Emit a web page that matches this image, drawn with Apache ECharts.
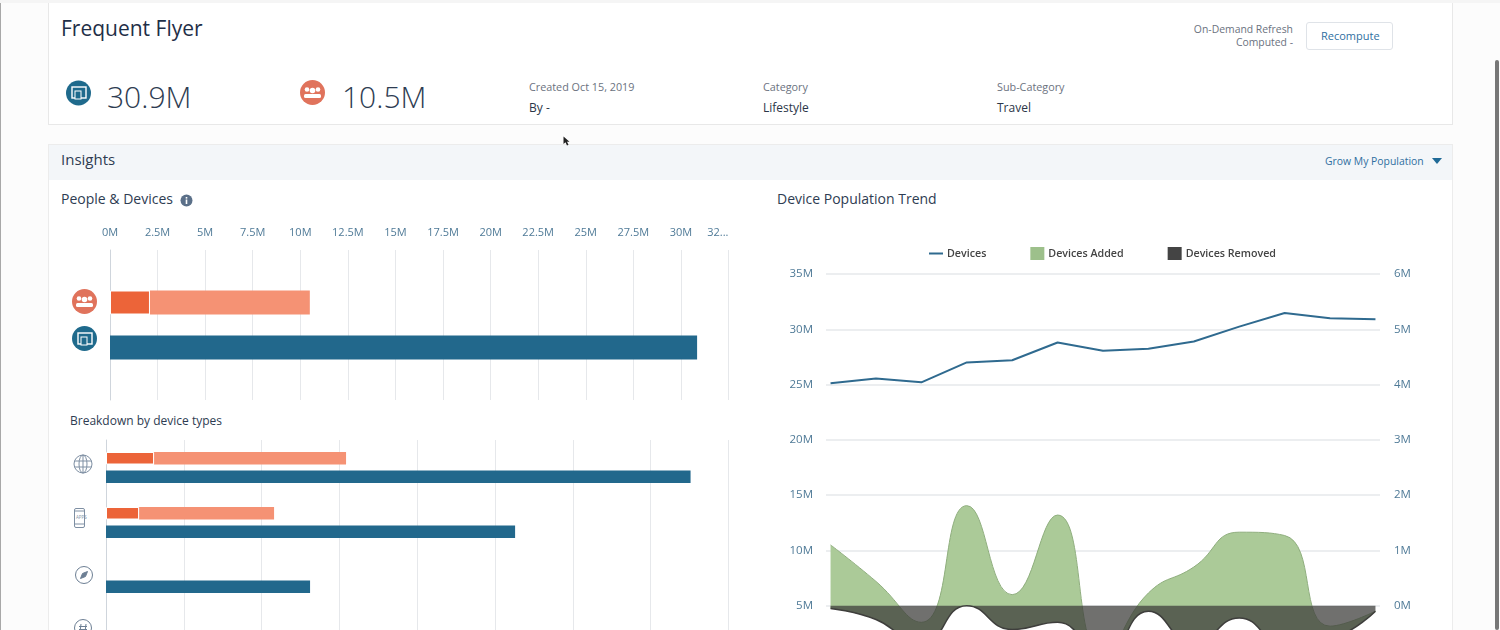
<!DOCTYPE html>
<html>
<head>
<meta charset="utf-8">
<title>Frequent Flyer</title>
<script src="https://cdn.jsdelivr.net/npm/echarts@6/dist/echarts.min.js"></script>
<style>
html, body { margin: 0; padding: 0; width: 1500px; height: 630px; overflow: hidden; background: #fcfcfc; font-family: "Open Sans", sans-serif; color: #16325c; }
.box { position: absolute; box-sizing: border-box; }
.t { position: absolute; white-space: nowrap; line-height: 1; }
.small { font-size: 10.8px; color: #6b7280; }
.val { font-size: 12px; color: #2b3648; }
.big { font-size: 30px; color: #2e3c52; font-weight: 300; }
.sec { font-size: 14px; color: #2e3c52; }
#main { position: absolute; left: 0; top: 0; width: 1500px; height: 630px; }
svg { position: absolute; }
</style>
</head>
<body>
<div class="box" style="left:0;top:0;width:1px;height:630px;background:#a8a8a8"></div>
<div class="box" style="left:0;top:0;width:1500px;height:3px;background:#f5f5f5"></div>
<div class="box" style="left:48px;top:3px;width:1405px;height:122px;background:#fff;border:1px solid #e8e8e8;border-top:0"></div>
<div class="box" style="left:48px;top:144px;width:1405px;height:486px;background:#fff;border:1px solid #ececec;border-bottom:0"></div>
<div class="box" style="left:49px;top:145px;width:1403px;height:35px;background:#f3f6f9"></div>
<div class="box" style="left:1495px;top:60px;width:4px;height:570px;background:#777;border-radius:2px"></div>

<div class="t" style="left:61px;top:18px;font-size:21px;color:#1f2f48">Frequent Flyer</div>
<div class="t big" style="left:107px;top:82px">30.9M</div>
<div class="t big" style="left:342px;top:82px">10.5M</div>
<div class="t small" style="left:529px;top:82px">Created Oct 15, 2019</div>
<div class="t val" style="left:529px;top:102px">By -</div>
<div class="t small" style="left:763px;top:82px">Category</div>
<div class="t val" style="left:763px;top:102px">Lifestyle</div>
<div class="t small" style="left:997px;top:82px">Sub-Category</div>
<div class="t val" style="left:997px;top:102px">Travel</div>
<div class="t" style="right:207px;top:24px;font-size:10.4px;color:#6b7280">On-Demand Refresh</div>
<div class="t" style="right:207px;top:37px;font-size:10.4px;color:#6b7280">Computed -</div>
<div class="box" style="left:1306px;top:22px;width:87px;height:28px;background:#fff;border:1px solid #dfe3e8;border-radius:3px"></div>
<div class="t" style="left:1321px;top:30px;font-size:11px;color:#2f6f9f">Recompute</div>

<div class="t" style="left:61px;top:152px;font-size:15px;color:#2e3c52">Insights</div>
<div class="t" style="left:1325px;top:156px;font-size:10.4px;color:#2f6f9f">Grow My Population</div>
<svg style="left:1432px;top:158px" width="10" height="7"><path d="M0 0H10L5 6Z" fill="#1f6a97"/></svg>

<div class="t sec" style="left:61px;top:192px">People &amp; Devices</div>
<svg style="left:180px;top:194px" width="13" height="13"><circle cx="6.5" cy="6.5" r="6" fill="#5b7089"/><rect x="5.7" y="5.5" width="1.6" height="4.5" fill="#fff"/><rect x="5.7" y="3" width="1.6" height="1.6" fill="#fff"/></svg>
<div class="t sec" style="left:777px;top:192px">Device Population Trend</div>
<div class="t" style="left:70px;top:415px;font-size:12px;color:#2e3c52">Breakdown by device types</div>

<svg style="left:66px;top:80px" width="25" height="26"><circle cx="12.5" cy="13" r="12.5" fill="#1f6a8c"/><rect x="6" y="7" width="14" height="11" fill="none" stroke="#fff" stroke-width="1.4"/><rect x="9" y="11" width="6" height="8" fill="#1f6a8c" stroke="#fff"/></svg>
<svg style="left:300px;top:80px" width="25" height="26"><circle cx="12.5" cy="12.5" r="12.5" fill="#e0735c"/><circle cx="7" cy="9.5" r="2.3" fill="#fff"/><circle cx="18" cy="9.5" r="2.3" fill="#fff"/><circle cx="12.5" cy="10.5" r="2.8" fill="#fff"/><rect x="4" y="14" width="17" height="4" rx="1.5" fill="#fff"/></svg>
<svg style="left:72px;top:289px" width="25" height="25"><circle cx="12.5" cy="12.5" r="12.5" fill="#e0735c"/><circle cx="7" cy="9.5" r="2.3" fill="#fff"/><circle cx="18" cy="9.5" r="2.3" fill="#fff"/><circle cx="12.5" cy="10.5" r="2.8" fill="#fff"/><rect x="4" y="14" width="17" height="4" rx="1.5" fill="#fff"/></svg>
<svg style="left:72px;top:326px" width="25" height="25"><circle cx="12.5" cy="12.5" r="12.5" fill="#1f6a8c"/><rect x="6" y="7" width="14" height="11" fill="none" stroke="#fff" stroke-width="1.4"/><rect x="9" y="11" width="6" height="8" fill="#1f6a8c" stroke="#fff"/></svg>
<svg style="left:72px;top:454px" width="22" height="22" fill="none" stroke="#7e8fa3"><circle cx="11" cy="10" r="9"/><ellipse cx="11" cy="10" rx="4" ry="9"/><path d="M11 1V19M2.5 7H19.5M2.5 13H19.5"/></svg>
<svg style="left:74px;top:508px" width="20" height="24" fill="none" stroke="#7e8fa3"><rect x="0.5" y="0.5" width="10" height="19" rx="1.5"/><path d="M0.5 3H10.5M0.5 16H10.5"/><text x="2" y="11" font-size="4.5" fill="#7e8fa3" stroke="none">APPS</text></svg>
<svg style="left:74px;top:565px" width="20" height="20" fill="none" stroke="#6d7f94"><circle cx="10" cy="10" r="8.5"/><path d="M13.5 6.5L8.5 8.5L6.5 13.5L11.5 11.5Z" fill="#6d7f94"/></svg>
<svg style="left:73px;top:618px" width="20" height="20" fill="none" stroke="#6d7f94"><circle cx="10" cy="10" r="8.5"/><path d="M8 6L7 14M13 6L12 14M6 8.5H14M6 11.5H14"/></svg>
<svg style="left:563px;top:136px" width="8" height="11"><path d="M0.5 0.5V8L2.5 6.3L4 9.5L5.5 8.8L4 5.8H6.5Z" fill="#222"/></svg>

<div id="main"></div>
<script>
var peopleDevicesCats = ['', '', '', 'People', '', '', 'Devices', '', '', ''];
var peopleMatched = [null, null, null, 2.1, null, null, null, null, null, null];
var peopleRest = [null, null, null, 8.4, null, null, null, null, null, null];
var devicesTotal = [null, null, null, null, null, null, 30.85, null, null, null];

var deviceTypeCats = ['Web', 'Apps', 'Browser', 'Other'];
var typePeopleMatched = [2.47, 1.7, null, null];
var typePeopleRest = [9.87, 6.94, null, null];
var typeDevices = [30.05, 21.03, 10.49, null];

// the x axis has no labels in the picture, the points are just evenly spaced weeks
var trendWeeks = ['2019-07-16', '2019-07-23', '2019-07-30', '2019-08-06', '2019-08-13', '2019-08-20', '2019-08-27', '2019-09-03', '2019-09-10', '2019-09-17', '2019-09-24', '2019-10-01', '2019-10-08'];
var trendDevices = [25.12, 25.54, 25.2, 27.0, 27.2, 28.8, 28.05, 28.23, 28.9, 30.24, 31.47, 31.0, 30.9];
var trendAdded = [1.1, 0.44, -0.3, 1.81, 0.2, 1.64, -0.9, 0.23, 0.7, 1.33, 1.27, -0.37, -0.1];
var trendRemoved = [-0.05, -0.25, -0.7, 0.0, -0.43, -0.3, -1.0, -0.1, -0.7, -0.22, -0.7, -0.6, -0.1];

var main = echarts.init(document.getElementById('main'));
var FONT = '"Open Sans", sans-serif';
var AXIS_TEXT = '#4f7a97';
var GRID_LINE = '#e6e8eb';
var DARK_ORANGE = '#ec6439';
var LIGHT_ORANGE = '#f59274';
var BLUE = '#22688c';
var PAD_MS = 0.1 * 7 * 24 * 3600 * 1000;

var weekTimes = trendWeeks.map(function (d) { return Date.parse(d); });

function withWeek(arr) {
	return arr.map(function (v, i) { return [weekTimes[i], v]; });
}

// the green band sits on top of the removed curve, so it is stacked as the gap between the two
var addedOverRemoved = trendAdded.map(function (v, i) { return v - trendRemoved[i]; });

function peopleBar(name, data, style, xi) {
	return {
		name: name, type: 'bar', stack: 'people', xAxisIndex: xi, yAxisIndex: xi,
		data: data, itemStyle: style, silent: true
	};
}

var matchedStyle = { color: DARK_ORANGE, borderColor: '#fff', borderWidth: 1 };
var restStyle = { color: LIGHT_ORANGE };

var option = {
	animation: false,
	textStyle: { fontFamily: FONT },
	legend: {
		left: 929, top: 247, padding: 0, itemGap: 44, itemWidth: 14, itemHeight: 13,
		textStyle: { fontFamily: FONT, fontSize: 10.7, fontWeight: 600, color: '#444', padding: [0, 0, 0, -1] },
		data: [
			{ name: 'Devices', icon: 'path://M0 5H14V7H0Z' },
			{ name: 'Devices Added', icon: 'rect' },
			{ name: 'Devices Removed', icon: 'rect' }
		]
	},
	grid: [
		{ left: 110, width: 618.5, top: 250, height: 150, outerBoundsMode: 'none' },
		{ left: 106, width: 622.5, top: 440, height: 220, outerBoundsMode: 'none' },
		{ left: 826, width: 554, top: 274, height: 387, outerBoundsMode: 'none' }
	],
	xAxis: [
		{
			gridIndex: 0, type: 'value', position: 'top', min: 0, max: 32.5, interval: 2.5,
			axisLine: { show: false }, axisTick: { show: false },
			splitLine: { show: true, lineStyle: { color: GRID_LINE, width: 1 } },
			axisLabel: {
				color: AXIS_TEXT, fontSize: 11, margin: 12, alignMaxLabel: 'right', showMaxLabel: true,
				formatter: function (v) { return v === 32.5 ? '32...' : v + 'M'; }
			}
		},
		{
			gridIndex: 1, type: 'value', min: 0, max: 32, interval: 4,
			axisLine: { show: false }, axisTick: { show: false }, axisLabel: { show: false },
			splitLine: { show: true, lineStyle: { color: GRID_LINE, width: 1 } }
		},
		{ gridIndex: 2, type: 'time', min: weekTimes[0] - PAD_MS, max: weekTimes[12] + PAD_MS, show: false }
	],
	yAxis: [
		{
			gridIndex: 0, type: 'category', inverse: true, data: peopleDevicesCats,
			axisLine: { show: true, lineStyle: { color: '#cfd5dc' } }, axisTick: { show: false }, axisLabel: { show: false }
		},
		{
			gridIndex: 1, type: 'category', inverse: true, data: deviceTypeCats,
			axisLine: { show: true, lineStyle: { color: '#cfd5dc' } }, axisTick: { show: false }, axisLabel: { show: false }
		},
		{
			gridIndex: 2, type: 'value', min: 0, max: 35, interval: 5,
			axisLine: { show: false }, axisTick: { show: false },
			axisLabel: { color: AXIS_TEXT, fontSize: 11.5, margin: 13, showMinLabel: false, formatter: '{value}M' },
			splitLine: { lineStyle: { color: GRID_LINE, width: 1.5 } }
		},
		{
			gridIndex: 2, type: 'value', position: 'right', min: -1, max: 6, interval: 1,
			axisLine: { show: false }, axisTick: { show: false }, splitLine: { show: false },
			axisLabel: { color: AXIS_TEXT, fontSize: 11.5, margin: 14, showMinLabel: false, formatter: '{value}M' }
		}
	],
	series: [
		Object.assign(peopleBar('Matched', peopleMatched, matchedStyle, 0), { barWidth: 24, z: 3 }),
		Object.assign(peopleBar('People', peopleRest, restStyle, 0), { z: 2 }),
		{
			name: 'Devices total', type: 'bar', stack: 'people', xAxisIndex: 0, yAxisIndex: 0,
			data: devicesTotal, itemStyle: { color: BLUE }
		},
		Object.assign(peopleBar('Type matched', typePeopleMatched, matchedStyle, 1), { barWidth: 12.5, barGap: '48%', z: 3 }),
		Object.assign(peopleBar('Type people', typePeopleRest, restStyle, 1), { z: 2 }),
		{
			name: 'Type devices', type: 'bar', xAxisIndex: 1, yAxisIndex: 1, barWidth: 12.5, barGap: '48%',
			data: typeDevices, itemStyle: { color: BLUE }
		},
		{
			name: 'Devices Removed', type: 'line', xAxisIndex: 2, yAxisIndex: 3, smooth: true, showSymbol: false,
			stack: 'flow', stackStrategy: 'all',
			data: withWeek(trendRemoved), itemStyle: { color: '#444' }, z: 4,
			lineStyle: { color: '#3e3e3c', width: 1.5 }, areaStyle: { color: '#3e3e3c', opacity: 0.74 }
		},
		{
			name: 'Devices Added', type: 'line', xAxisIndex: 2, yAxisIndex: 3, smooth: true, showSymbol: false,
			stack: 'flow', stackStrategy: 'all',
			data: withWeek(addedOverRemoved), itemStyle: { color: '#9dc08b' }, z: 2,
			lineStyle: { color: '#8fae7e', width: 1 }, areaStyle: { color: '#abca98', opacity: 1 }
		},
		{
			name: 'Devices', type: 'line', xAxisIndex: 2, yAxisIndex: 2, showSymbol: false, z: 5,
			data: withWeek(trendDevices), itemStyle: { color: '#2f6a8f' },
			lineStyle: { color: '#2f6a8f', width: 2 }
		}
	]
};
main.setOption(option);
</script>
</body>
</html>
